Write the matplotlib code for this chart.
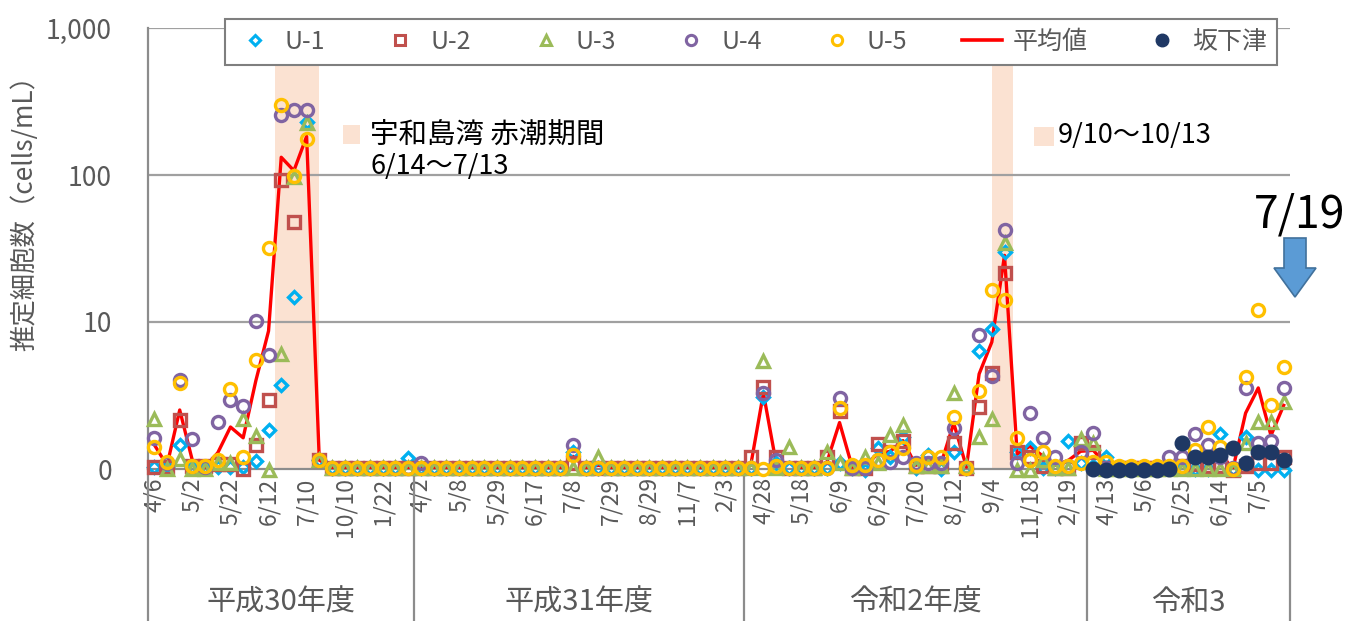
import numpy as np
import matplotlib.pyplot as plt
import matplotlib.transforms as mtransforms
from matplotlib.lines import Line2D
from matplotlib.patches import Polygon, Rectangle
from matplotlib.ticker import NullLocator

plt.rcParams['font.family'] = ['Noto Sans CJK JP', 'DejaVu Sans']

# ---------------------------------------------------------------
# Data (cells/mL; "0" is drawn at 1 on the log axis)
# ---------------------------------------------------------------
fy_names = ['平成30年度', '平成31年度', '令和2年度', '令和3']
fy_sizes = [21, 26, 27, 16]

date_labels = ['4/6', '5/2', '5/22', '6/12', '7/10', '10/10', '1/22',
               '4/2', '5/8', '5/29', '6/17', '7/8', '7/29', '8/29', '11/7', '2/3',
               '4/28', '5/18', '6/9', '6/29', '7/20', '8/12', '9/4', '11/18', '2/19',
               '4/13', '5/6', '5/25', '6/14', '7/5']

u1 = [1.03, 1.03, 1.45, 1.03, 1.03, 1.03, 1.03, 1.03, 1.13, 1.84, 3.7, 14.7, 230, 1.15,
      1.02, 1.02, 1.02, 1.02, 1.02, 1.02, 1.19,
      1.02, 1.02, 1.02, 1.02, 1.02, 1.02, 1.02, 1.02, 1.02, 1.02, 1.02, 1.02, 1.3,
      1.02, 1.02, 1.02, 1.02, 1.02, 1.02, 1.02, 1.02, 1.02, 1.02, 1.02, 1.02, 1.02,
      1.02, 3.1, 1.1, 1.02, 1.02, 1.02, 1.02, 1.1, 1.02, 0.98, 1.4, 1.2, 1.66, 1.02,
      1.25, 1.0, 1.31, 1.02, 6.3, 9.0, 30, 1.3, 1.4, 1.02, 1.02, 1.56, 1.1,
      1.05, 1.2, 1.02, 1.02, 1.02, 1.02, 1.02, 1.02, 1.0, 1.0, 1.72, 1.0, 1.65,
      0.98, 0.98, 0.98]

u2 = [1.03, 1.03, 2.15, 1.05, 1.05, 1.08, 1.08, 1.0, 1.45, 2.95, 92, 48, np.nan, 1.15,
      1.02, 1.02, 1.02, 1.02, 1.02, 1.02, 1.02,
      1.02, 1.02, 1.02, 1.02, 1.02, 1.02, 1.02, 1.02, 1.02, 1.02, 1.02, 1.02, 1.1,
      1.02, 1.02, 1.02, 1.02, 1.02, 1.02, 1.02, 1.02, 1.02, 1.02, 1.02, 1.02, 1.02,
      1.21, 3.6, 1.2, 1.02, 1.02, 1.02, 1.2, 2.5, 1.02, 1.02, 1.48, 1.3, 1.56, 1.05,
      1.05, 1.05, 1.5, 1.02, 2.65, 4.5, 21.4, 1.3, 1.2, 1.05, 1.02, 1.02, 1.5,
      1.3, 1.02, 1.02, 1.02, 1.02, 1.02, 1.02, 1.04, 1.08, 1.04, 1.04, 0.98, 1.04,
      1.1, 1.1, 1.21]

u3 = [2.2, 1.0, 1.17, 1.0, 1.0, 1.1, 1.1, 2.2, 1.68, 0.98, 6.1, 97, 227, 1.15,
      1.02, 1.02, 1.02, 1.02, 1.02, 1.02, 1.02,
      1.02, 1.02, 1.02, 1.02, 1.02, 1.02, 1.02, 1.02, 1.02, 1.02, 1.02, 1.02, 1.02,
      1.02, 1.21, 1.02, 1.02, 1.02, 1.02, 1.02, 1.02, 1.02, 1.02, 1.02, 1.02, 1.02,
      1.02, 5.4, 1.02, 1.42, 1.02, 1.02, 1.31, 1.1, 1.02, 1.21, 1.1, 1.7, 2.0, 1.05,
      1.05, 1.05, 3.27, 1.05, 1.66, 2.2, 34.2, 0.98, 0.98, 1.15, 1.02, 1.02, 1.6,
      1.5, 1.0, 1.0, 1.0, 1.0, 1.0, 1.0, 1.0, 1.0, 1.0, 1.0, 1.0, 1.5,
      2.1, 2.1, 2.87]

u4 = [1.62, 1.1, 4.0, 1.6, 1.03, 2.1, 2.95, 2.7, 10.2, 6.0, 256, 278, 278, 1.15,
      1.02, 1.02, 1.02, 1.02, 1.02, 1.02, 1.02,
      1.1, 1.02, 1.02, 1.02, 1.02, 1.02, 1.02, 1.02, 1.02, 1.02, 1.02, 1.02, 1.46,
      1.02, 1.02, 1.02, 1.02, 1.02, 1.02, 1.02, 1.02, 1.02, 1.02, 1.02, 1.02, 1.02,
      1.02, 3.3, 1.15, 1.02, 1.02, 1.02, 1.02, 3.05, 1.02, 1.02, 1.15, 1.12, 1.2, 1.1,
      1.1, 1.1, 1.9, 1.02, 8.15, 4.3, 42.3, 1.1, 2.4, 1.62, 1.21, 1.05, 1.3,
      1.75, 1.02, 1.02, 1.02, 1.02, 1.02, 1.2, 1.2, 1.72, 1.45, 1.2, 1.02, 3.54,
      1.5, 1.55, 3.54]

u5 = [1.42, 1.12, 3.85, 1.04, 1.04, 1.15, 3.5, 1.21, 5.5, 31.7, 300, 98, 175, 1.15,
      1.02, 1.02, 1.02, 1.02, 1.02, 1.02, 1.02,
      1.02, 1.02, 1.02, 1.02, 1.02, 1.02, 1.02, 1.02, 1.02, 1.02, 1.02, 1.02, 1.24,
      1.02, 1.02, 1.02, 1.02, 1.02, 1.02, 1.02, 1.02, 1.02, 1.02, 1.02, 1.02, 1.02,
      1.02, 1.0, 1.04, 1.02, 1.02, 1.02, 1.02, 2.6, 1.07, 1.07, 1.15, 1.3, 1.38, 1.07,
      1.2, 1.21, 2.25, 1.02, 3.4, 16.5, 14.1, 1.62, 1.15, 1.31, 1.04, 1.04, 1.1,
      1.12, 1.12, 1.04, 1.04, 1.04, 1.04, 1.04, 1.04, 1.35, 1.94, 1.42, 1.0, 4.25,
      12.1, 2.72, 4.96]

avg = [1.46, 1.06, 2.52, 1.14, 1.03, 1.29, 1.93, 1.63, 3.99, 8.69, 132, 107, 183, 1.15,
       1.02, 1.02, 1.02, 1.02, 1.02, 1.02, 1.02,
       1.02, 1.02, 1.02, 1.02, 1.02, 1.02, 1.02, 1.02, 1.02, 1.02, 1.02, 1.02, 1.22,
       1.02, 1.06, 1.02, 1.02, 1.02, 1.02, 1.02, 1.02, 1.02, 1.02, 1.02, 1.02, 1.02,
       1.06, 3.28, 1.1, 1.1, 1.02, 1.02, 1.11, 2.07, 1.03, 1.06, 1.26, 1.32, 1.56, 1.06,
       1.13, 1.09, 2.05, 1.03, 4.43, 7.3, 28.4, 1.26, 1.43, 1.23, 1.06, 1.14, 1.32,
       1.34, 1.07, 1.02, 1.02, 1.02, 1.02, 1.06, 1.06, 1.23, 1.29, 1.28, 1.0, 2.4,
       3.56, 1.69, 2.71]

# 坂下津 only sampled in 令和3
saka = [np.nan] * 74 + [1.0, 0.99, 0.99, 0.98, 0.98, 0.98, 1.0, 1.5,
                        1.2, 1.2, 1.25, 1.4, 1.1, 1.3, 1.3, 1.15]

# red tide periods, in category units
redtide_spans = [(9.5, 13.0), (66.0, 67.7)]

# ---------------------------------------------------------------
# Plotting
# ---------------------------------------------------------------
W, H = 1348, 621
fig = plt.figure(figsize=(W / 100, H / 100), dpi=100)
ax = fig.add_axes([148 / W, 1 - 469 / H, 1142 / W, 441 / H])

x = np.arange(len(u1))
grey = '#8C8C8C'
txt = '#595959'
peach = '#FBE2D2'

for a, b in redtide_spans:
    ax.axvspan(a, b, color=peach, lw=0, zorder=0)

for v in [10, 100, 1000]:
    ax.axhline(v, color='#A0A0A0', lw=1.6, zorder=1)

ax.plot(x, avg, color='#FF0000', lw=2.4, zorder=3)

series = [
    (u1, 'D', '#00B0F0', 6.3, 'U-1'),
    (u2, 's', '#C0504D', 8.0, 'U-2'),
    (u3, '^', '#9BBB59', 9.0, 'U-3'),
    (u4, 'o', '#8064A2', 8.7, 'U-4'),
    (u5, 'o', '#FFC000', 8.7, 'U-5'),
]
for vals, mk, col, ms, lab in series:
    ax.plot(x, vals, linestyle='none', marker=mk, ms=ms, mfc='none', mec=col,
            mew=2.4, zorder=4, clip_on=False)

ax.plot(x, saka, linestyle='none', marker='o', ms=10.5, color='#1F3864',
        zorder=5, clip_on=False)

ax.set_xlim(-0.5, len(u1) - 0.5)
ax.set_yscale('log')
ax.set_ylim(1, 1000)
ax.set_yticks([1, 10, 100, 1000])
ax.set_yticklabels(['0', '10', '100', '1,000'])
ax.yaxis.set_minor_locator(NullLocator())
ax.tick_params(axis='y', length=0, labelsize=19, labelcolor=txt, pad=26)

ax.set_xticks(x[::3])
ax.set_xticklabels(date_labels, rotation=90, fontsize=16.5, color=txt)
ax.tick_params(axis='x', length=0, pad=6)

for s in ['top', 'right']:
    ax.spines[s].set_visible(False)
for s in ['left', 'bottom']:
    ax.spines[s].set_color(grey)
    ax.spines[s].set_linewidth(1.6)

# multi-level category axis: year groups below the dates
trans = mtransforms.blended_transform_factory(ax.transData, ax.transAxes)
bounds = np.cumsum([0] + fy_sizes) - 0.5
for b in bounds:
    ax.plot([b, b], [0, -0.36], transform=trans, color=grey, lw=1.6, clip_on=False)
for name, lo, hi in zip(fy_names, bounds[:-1], bounds[1:]):
    ax.text((lo + hi) / 2, -0.304, name, transform=trans, ha='center', va='center',
            fontsize=21, color=txt)

fig.text(25 / W, 1 - 207 / H, '推定細胞数（cells/mL）', rotation=90, ha='center',
         va='center', fontsize=19, color=txt)

# legend
handles = [Line2D([], [], linestyle='none', marker=mk, ms=ms * 0.85, mfc='none', mec=col, mew=2.2)
           for vals, mk, col, ms, lab in series]
handles.append(Line2D([], [], color='#FF0000', lw=2.6))
handles.append(Line2D([], [], linestyle='none', marker='o', ms=9, color='#1F3864'))
labels = [s[-1] for s in series] + ['平均値', '坂下津']
leg = ax.legend(handles, labels, ncol=7, loc='center',
                bbox_to_anchor=(751 / W, 1 - 42 / H), bbox_transform=fig.transFigure,
                fontsize=18, frameon=True, fancybox=False, framealpha=1,
                edgecolor='#7F7F7F', handlelength=1.6, handletextpad=0.4,
                columnspacing=2.2, borderpad=0.4)
leg.get_frame().set_linewidth(1.5)
for t in leg.get_texts():
    t.set_color(txt)

# red tide notes
def px_rect(x0, y0, x1, y1):
    return Rectangle((x0 / W, 1 - y1 / H), (x1 - x0) / W, (y1 - y0) / H,
                     transform=fig.transFigure, facecolor=peach, edgecolor='none')

fig.patches.append(px_rect(343, 125, 360, 144))
fig.text(370 / W, 1 - 135 / H, '宇和島湾 赤潮期間', fontsize=20.5, va='center', color='black')
fig.text(370 / W, 1 - 166 / H, '6/14～7/13', fontsize=19.5, va='center', color='black')
fig.patches.append(px_rect(1034, 127, 1054, 146))
fig.text(1058 / W, 1 - 136 / H, '9/10～10/13', fontsize=19.5, va='center', color='black')

# latest sampling marker
fig.text(1300 / W, 1 - 214 / H, '7/19', fontsize=32, ha='center', va='center', color='black')
arrow_px = [(1284, 238), (1306, 238), (1306, 268), (1316, 268), (1295, 297),
            (1274, 268), (1284, 268)]
fig.patches.append(Polygon([(px / W, 1 - py / H) for px, py in arrow_px], closed=True,
                           transform=fig.transFigure, facecolor='#5B9BD5',
                           edgecolor='#41719C', lw=1.2))

fig.savefig('out.png', dpi=100)
